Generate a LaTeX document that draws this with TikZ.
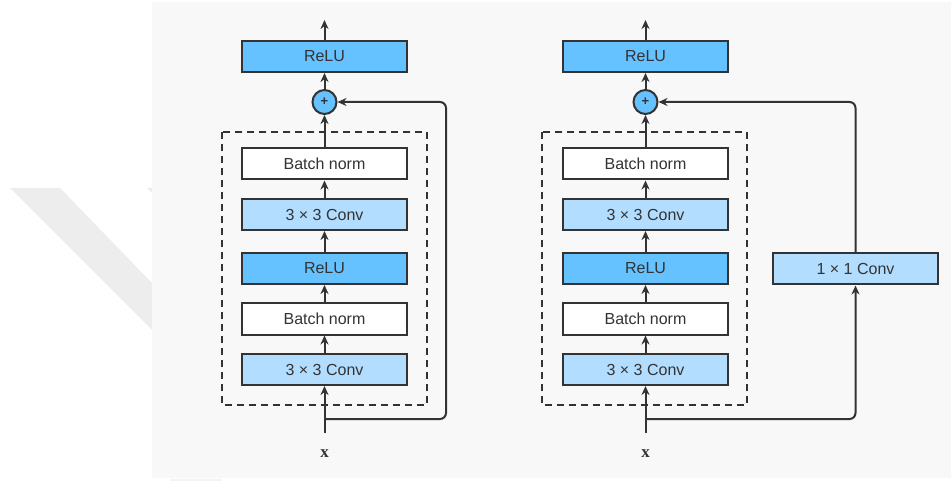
\documentclass[tikz,border=0pt]{standalone}
\usepackage{fontspec}
\setmainfont{Liberation Sans}
\newfontfamily\serifx{Liberation Serif}
\usetikzlibrary{arrows.meta}
\definecolor{panel}{HTML}{F8F8F8}
\definecolor{wmark}{HTML}{EDEDED}
\definecolor{dark}{HTML}{66C2FF}
\definecolor{light}{HTML}{B3DDFF}
\definecolor{edge}{HTML}{333333}
\tikzset{
  blk/.style={draw=edge, line width=2pt, minimum width=165pt, minimum height=31pt, inner sep=0pt, font=\fontsize{16}{18}\selectfont, text=edge},
  reluB/.style={blk, fill=dark},
  convB/.style={blk, fill=light},
  bnB/.style={blk, fill=white},
  addC/.style={circle, draw=edge, line width=2pt, fill=dark, minimum size=24pt, inner sep=0pt, font=\fontsize{13}{13}\selectfont\bfseries, text=edge},
  con/.style={draw=edge, line width=2pt, -{Stealth[length=9pt,width=8pt]}},
  dbox/.style={draw=edge, line width=2pt, dash pattern=on 7pt off 5pt},
  xlab/.style={font=\serifx\fontsize{17}{17}\selectfont\bfseries, text=edge}
}
\begin{document}
\begin{tikzpicture}[x=1pt,y=-1pt]
\useasboundingbox (0,0) rectangle (951,481);
% watermark and panel
\fill[wmark] (10,188) -- (60,188) -- (152,283) -- (152,330) -- cycle;
\fill[wmark] (147,188) -- (152,188) -- (152,193) -- cycle;
\fill[panel] (152,2) rectangle (951,478);
\fill[wmark!60!white] (170,479) rectangle (222,481);

% ---------- left block ----------
\node[reluB] (r1) at (324.5,56.5) {ReLU};
\node[addC] (p1) at (324.5,102) {+};
\node[bnB] (bn2a) at (324.5,164) {Batch norm};
\node[convB] (c2a) at (324.5,214.5) {3 × 3 Conv};
\node[reluB] (r0a) at (324.5,268.5) {ReLU};
\node[bnB] (bn1a) at (324.5,319) {Batch norm};
\node[convB] (c1a) at (324.5,369.5) {3 × 3 Conv};
\node[xlab] (xa) at (324.5,454) {x};
\coordinate (ina) at (324.5,433);
\coordinate (splita) at (324.5,419);
\coordinate (topa) at (324.5,20);
\draw[dbox] (222,132) rectangle (427,405);
\draw[con] (ina) -- (c1a);
\draw[con] (c1a) -- (bn1a);
\draw[con] (bn1a) -- (r0a);
\draw[con] (r0a) -- (c2a);
\draw[con] (c2a) -- (bn2a);
\draw[con] (bn2a) -- (p1);
\draw[con] (p1) -- (r1);
\draw[con] (r1) -- (topa);
\draw[con, rounded corners=6pt] (splita) -- (446,419) -- (446,102) -- (p1);

% ---------- right block ----------
\node[reluB] (r2) at (645.5,56.5) {ReLU};
\node[addC] (p2) at (645.5,102) {+};
\node[bnB] (bn2b) at (645.5,164) {Batch norm};
\node[convB] (c2b) at (645.5,214.5) {3 × 3 Conv};
\node[reluB] (r0b) at (645.5,268.5) {ReLU};
\node[bnB] (bn1b) at (645.5,319) {Batch norm};
\node[convB] (c1b) at (645.5,369.5) {3 × 3 Conv};
\node[convB] (c11) at (855.5,269) {1 × 1 Conv};
\node[xlab] (xb) at (645.5,454) {x};
\coordinate (inb) at (645.5,433);
\coordinate (splitb) at (645.5,419);
\coordinate (topb) at (645.5,20);
\draw[dbox] (542,132) rectangle (747,405);
\draw[con] (inb) -- (c1b);
\draw[con] (c1b) -- (bn1b);
\draw[con] (bn1b) -- (r0b);
\draw[con] (r0b) -- (c2b);
\draw[con] (c2b) -- (bn2b);
\draw[con] (bn2b) -- (p2);
\draw[con] (p2) -- (r2);
\draw[con] (r2) -- (topb);
\draw[con, rounded corners=6pt] (splitb) -- (855.5,419) -- (c11.south);
\draw[con, rounded corners=6pt] (c11.north) -- (855.5,102) -- (p2);
\end{tikzpicture}
\end{document}
